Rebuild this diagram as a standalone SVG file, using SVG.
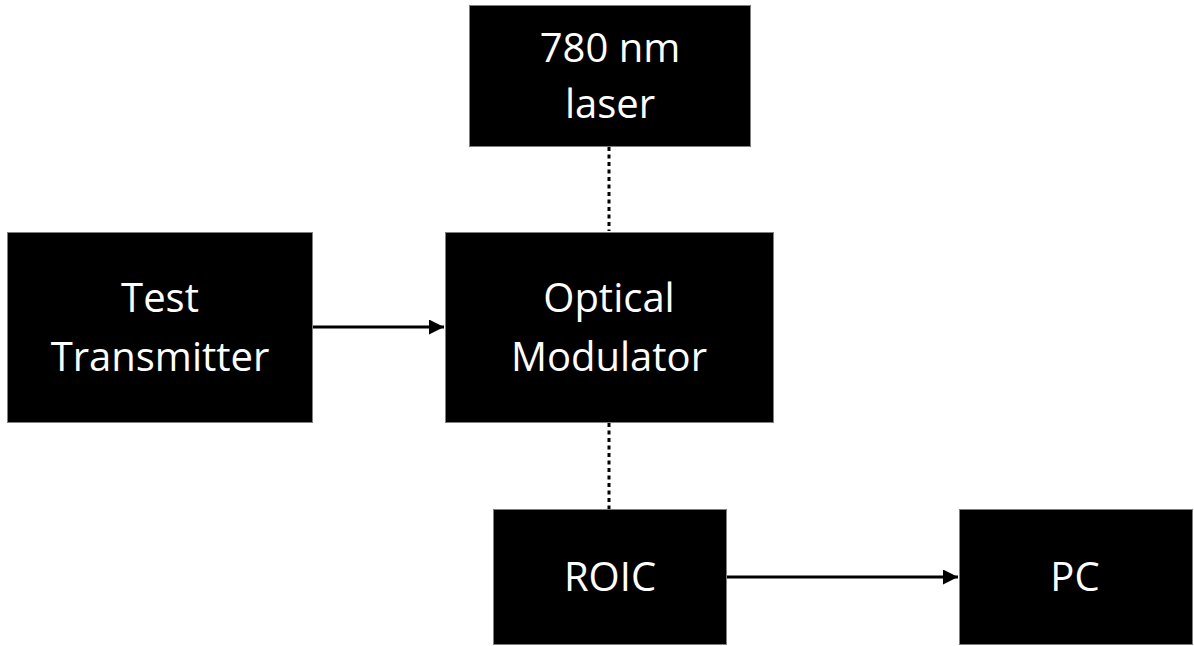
<svg xmlns="http://www.w3.org/2000/svg" width="1194" height="646" viewBox="0 0 1194 646">
<style>
.box{fill:#000;stroke:#7f7f7f;stroke-width:1}
.lbl{fill:#fff;font-family:"Open Sans","Liberation Sans",sans-serif;font-size:40px;text-anchor:middle}
.solid{stroke:#000;stroke-width:3;fill:none}
.dot{stroke:#000;stroke-width:3;fill:none;stroke-dasharray:4 3.5}
</style>
<defs>
<marker id="arr" viewBox="0 0 10 10" refX="10" refY="5" markerWidth="5" markerHeight="5" markerUnits="strokeWidth" orient="auto">
<path d="M0,0 L10,5 L0,10 Z" fill="#000"/>
</marker>
</defs>
<rect width="1194" height="646" fill="#fff"/>
<g id="connectors">
<line class="dot" x1="609" y1="147" x2="609" y2="231"/>
<line class="dot" x1="609" y1="423" x2="609" y2="509"/>
<line class="solid" x1="313" y1="327" x2="444" y2="327" marker-end="url(#arr)"/>
<line class="solid" x1="727" y1="577" x2="958" y2="577" marker-end="url(#arr)"/>
</g>
<g id="laser">
<rect class="box" x="469.5" y="5.5" width="281" height="141"/>
<text class="lbl" x="610" y="62">780 nm</text>
<text class="lbl" x="610" y="118">laser</text>
</g>
<g id="transmitter">
<rect class="box" x="7.5" y="232.5" width="305" height="190"/>
<text class="lbl" x="160" y="312">Test</text>
<text class="lbl" x="160" y="371">Transmitter</text>
</g>
<g id="modulator">
<rect class="box" x="445.5" y="232.5" width="328" height="190"/>
<text class="lbl" x="609" y="312">Optical</text>
<text class="lbl" x="609" y="371">Modulator</text>
</g>
<g id="roic">
<rect class="box" x="493.5" y="509.5" width="233" height="135"/>
<text class="lbl" x="610" y="591">ROIC</text>
</g>
<g id="pc">
<rect class="box" x="959.5" y="509.5" width="233" height="135"/>
<text class="lbl" x="1075" y="591">PC</text>
</g>
</svg>
